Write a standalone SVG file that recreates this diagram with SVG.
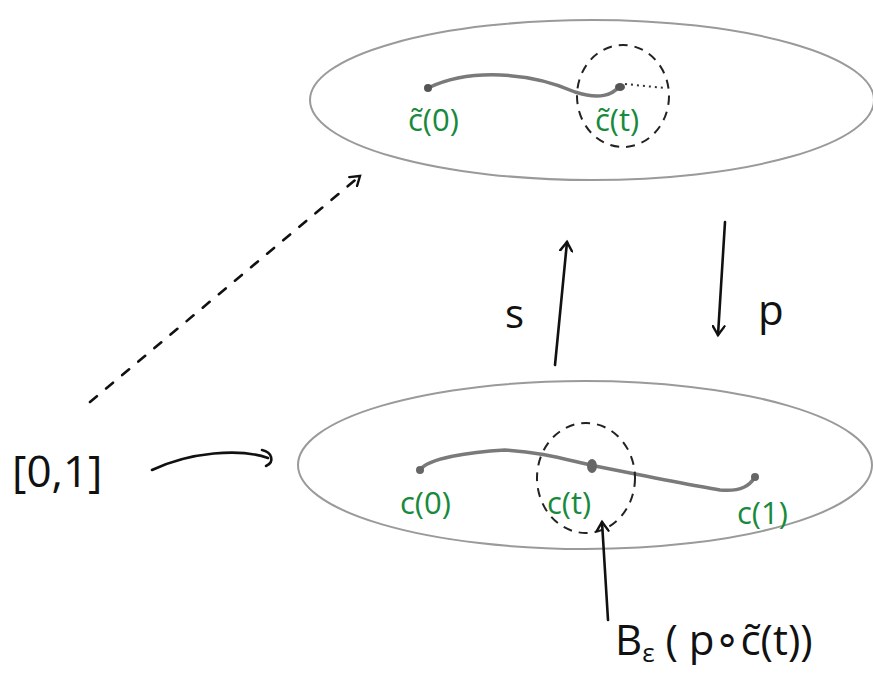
<svg xmlns="http://www.w3.org/2000/svg" width="873" height="680" viewBox="0 0 873 680">
<style>
.sheet{fill:none;stroke:#9a9a9a;stroke-width:2}
.curve{fill:none;stroke:#7a7a7a;stroke-width:3.5;stroke-linecap:round}
.ball{fill:none;stroke:#222;stroke-width:2;stroke-dasharray:9 7}
.ink{fill:none;stroke:#111;stroke-width:2.6;stroke-linecap:round;stroke-linejoin:round}
.lbl{font-family:"Open Sans","Liberation Sans",sans-serif;fill:#178a3c;font-size:31px}
.txt{font-family:"Open Sans","Liberation Sans",sans-serif;fill:#111}
</style>
<defs>
<marker id="ah" markerWidth="14" markerHeight="14" refX="10" refY="7" orient="auto" markerUnits="userSpaceOnUse">
<path d="M1,1 L10,7 L1,13" fill="none" stroke="#111" stroke-width="2.4" stroke-linecap="round"/>
</marker>
</defs>
<g id="top-space">
<ellipse class="sheet" cx="592" cy="100" rx="282" ry="80"/>
<path class="curve" d="M428,88 C470,68 530,72 575,92 C600,100 612,95 620,86"/>
<circle cx="428" cy="88" r="4" fill="#555"/>
<ellipse cx="620" cy="87" rx="5" ry="4" fill="#555"/>
<path d="M625,84 L665,88" fill="none" stroke="#333" stroke-width="2" stroke-dasharray="2 4"/>
<ellipse class="ball" cx="623" cy="96" rx="46" ry="51"/>
<text class="lbl" x="408" y="131">c̃(0)</text>
<text class="lbl" x="595" y="131">c̃(t)</text>
</g>
<g id="bottom-space">
<ellipse class="sheet" cx="585" cy="465" rx="287" ry="84"/>
<path class="curve" d="M420,470 C428,458 470,452 505,450 C540,452 560,458 590,465 C640,475 690,485 720,490 C742,492 750,485 755,477"/>
<circle cx="420" cy="470" r="4" fill="#666"/>
<ellipse cx="592" cy="466" rx="5" ry="7" fill="#666"/>
<circle cx="755" cy="477" r="4" fill="#666"/>
<ellipse class="ball" cx="586" cy="478" rx="49" ry="55"/>
<text class="lbl" x="400" y="514">c(0)</text>
<text class="lbl" x="547" y="514">c(t)</text>
<text class="lbl" x="737" y="524">c(1)</text>
</g>
<g id="interval">
<text class="txt" x="12" y="487" font-size="44">[0,1]</text>
</g>
<g id="labels">
<text class="txt" x="505" y="328" font-size="40">s</text>
<text class="txt" x="758" y="325" font-size="42">p</text>
<text class="txt" x="615" y="655" font-size="42">B<tspan font-size="26" dy="7">ε</tspan><tspan dy="-7"> ( p∘c̃(t))</tspan></text>
</g>
<g id="connectors">
<path class="ink" d="M555,365 L567,242" marker-end="url(#ah)"/>
<path class="ink" d="M725,222 L718,335" marker-end="url(#ah)"/>
<path class="ink" d="M152,470 C190,452 240,448 268,458"/>
<path class="ink" d="M262,450 C272,452 275,462 266,466"/>
<path class="ink" d="M90,402 L360,176" stroke-dasharray="9 12" marker-end="url(#ah)"/>
<path class="ink" d="M608,620 L602,522" marker-end="url(#ah)"/>
</g>
</svg>
